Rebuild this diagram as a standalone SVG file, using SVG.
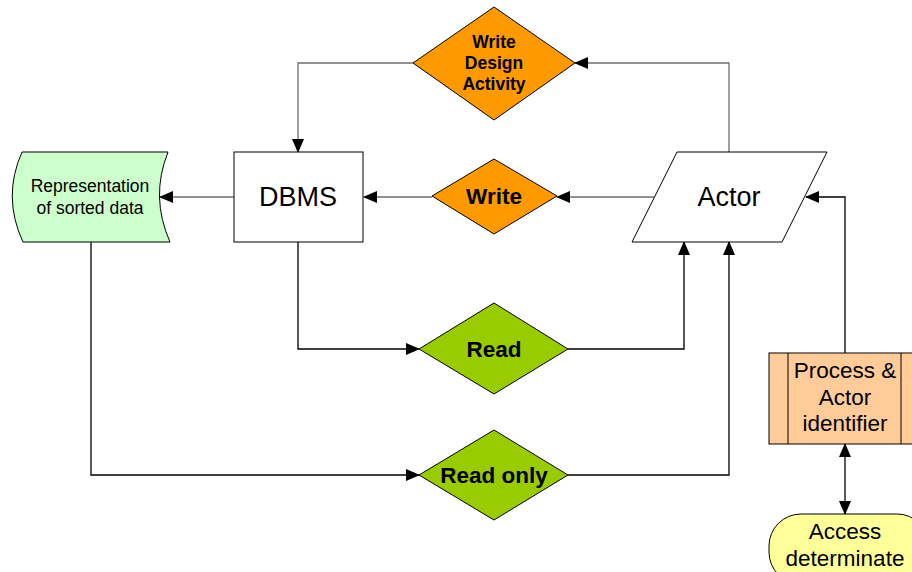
<svg xmlns="http://www.w3.org/2000/svg" width="912" height="572" viewBox="0 0 912 572">
<defs>
<marker id="arr" markerUnits="userSpaceOnUse" markerWidth="14" markerHeight="12" refX="13" refY="6" orient="auto-start-reverse">
<path d="M0,0 L14,6 L0,12 Z" fill="#000"/>
</marker>
</defs>
<style>
.ln{fill:none;stroke:#6e6e6e;stroke-width:1.3}
.lk{fill:none;stroke:#000;stroke-width:1.3}
.sh{stroke:#000;stroke-width:1}
.t{font-family:"Liberation Sans",Arial,sans-serif;text-anchor:middle;fill:#000}
.b{font-weight:bold}
</style>
<rect width="912" height="572" fill="#fff"/>
<g id="connectors">
<path class="ln" d="M234,197 H160" marker-end="url(#arr)"/>
<path class="ln" d="M432,197 H364" marker-end="url(#arr)"/>
<path class="ln" d="M654,197 H557" marker-end="url(#arr)"/>
<path class="ln" d="M413,63 H298 V152" marker-end="url(#arr)"/>
<path class="ln" d="M729,152 V63 H575" marker-end="url(#arr)"/>
<path class="lk" d="M845,353 V197 H806" marker-end="url(#arr)"/>
<path class="lk" d="M298,242 V349 H419" marker-end="url(#arr)"/>
<path class="lk" d="M568,349 H684 V242" marker-end="url(#arr)"/>
<path class="lk" d="M91,242 V475 H419" marker-end="url(#arr)"/>
<path class="lk" d="M568,475 H729 V242" marker-end="url(#arr)"/>
<path class="lk" d="M845,444 V514" marker-start="url(#arr)" marker-end="url(#arr)"/>
</g>
<g id="data">
<path class="sh" fill="#CCFFCC" d="M22,152 L168,152 Q150,197 170,242 L23,242 Q2,197 22,152 Z"/>
<text class="t" x="90" y="192" font-size="17.5">Representation</text>
<text class="t" x="90" y="214" font-size="17.5">of sorted data</text>
</g>
<g id="dbms">
<rect class="sh" x="234" y="152" width="129" height="90" fill="#fff"/>
<text class="t" x="298" y="206" font-size="27">DBMS</text>
</g>
<g id="write">
<path class="sh" fill="#FF9900" d="M432,196 L494,159 L557,196 L494,234 Z"/>
<text class="t b" x="494" y="204" font-size="22.5">Write</text>
</g>
<g id="write-design-activity">
<path class="sh" fill="#FF9900" d="M413,63 L494,7 L575,63 L494,120 Z"/>
<text class="t b" x="494" y="48" font-size="17.5">Write</text>
<text class="t b" x="494" y="69" font-size="17.5">Design</text>
<text class="t b" x="494" y="90" font-size="17.5">Activity</text>
</g>
<g id="actor">
<path class="sh" fill="#fff" d="M677,152 L827,152 L782,242 L632,242 Z"/>
<text class="t" x="729" y="206" font-size="27">Actor</text>
</g>
<g id="read">
<path class="sh" fill="#99CC00" d="M419,349 L494,303 L568,349 L494,394 Z"/>
<text class="t b" x="494" y="357" font-size="22.5">Read</text>
</g>
<g id="read-only">
<path class="sh" fill="#99CC00" d="M419,475 L494,430 L568,475 L494,520 Z"/>
<text class="t b" x="494" y="483" font-size="22.5">Read only</text>
</g>
<g id="process">
<rect class="sh" x="769" y="353" width="150" height="91" fill="#FFCC99"/>
<line class="sh" x1="788" y1="353" x2="788" y2="444"/>
<line class="sh" x1="901" y1="353" x2="901" y2="444"/>
<text class="t" x="845" y="378" font-size="22.5">Process &amp;</text>
<text class="t" x="845" y="405" font-size="22.5">Actor</text>
<text class="t" x="845" y="431" font-size="22.5">identifier</text>
</g>
<g id="access">
<rect class="sh" x="769" y="514" width="160" height="70" rx="32" ry="32" fill="#FFFF99"/>
<text class="t" x="845" y="539" font-size="22.5">Access</text>
<text class="t" x="845" y="566" font-size="22.5">determinate</text>
</g>
</svg>
